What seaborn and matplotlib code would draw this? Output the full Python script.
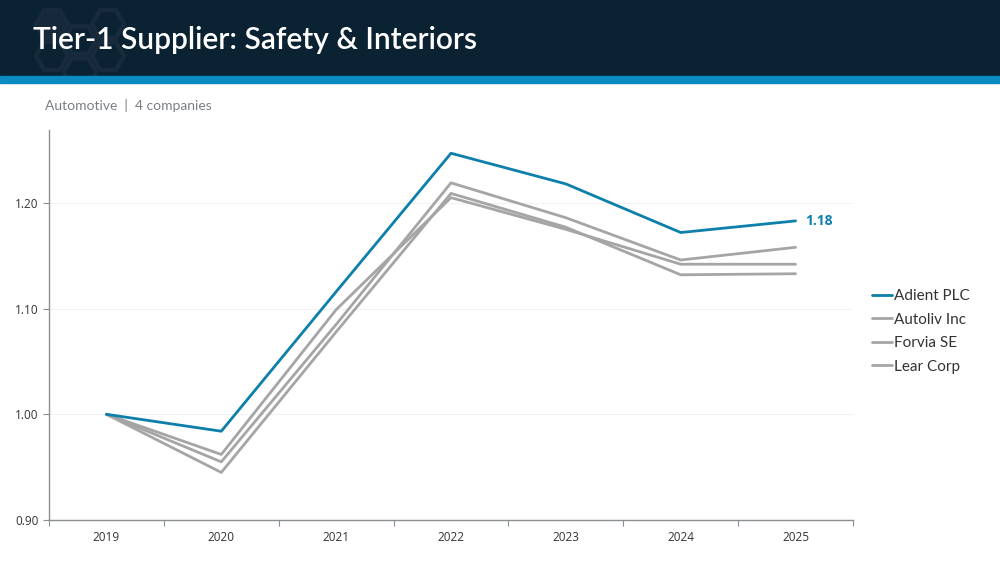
import numpy as np
import pandas as pd
import matplotlib
matplotlib.use("Agg")
import matplotlib.pyplot as plt
from matplotlib.patches import RegularPolygon, Rectangle
from matplotlib.lines import Line2D
import seaborn as sns

years = ["2019", "2020", "2021", "2022", "2023", "2024", "2025"]
companies = ["Adient PLC", "Autoliv Inc", "Forvia SE", "Lear Corp"]
adient = [1.00, 0.984, 1.116, 1.247, 1.218, 1.172, 1.183]
autoliv = [1.00, 0.962, 1.099, 1.205, 1.175, 1.142, 1.142]
forvia = [1.00, 0.955, 1.085, 1.219, 1.186, 1.146, 1.158]
lear = [1.00, 0.945, 1.078, 1.209, 1.177, 1.132, 1.133]
yticks = [0.90, 1.00, 1.10, 1.20]

BLUE = "#0c7fab"
GRAY = "#a5a5a5"
NAVY = "#0b2233"

series = [adient, autoliv, forvia, lear]
rows = []
for name, vals in zip(companies, series):
    for i, (yr, v) in enumerate(zip(years, vals)):
        rows.append({"company": name, "idx": i, "year": yr, "value": v})
df = pd.DataFrame(rows)

sns.set_theme(style="white")
plt.rcParams["font.family"] = ["Open Sans", "DejaVu Sans"]

fig = plt.figure(figsize=(10, 5.62), dpi=100)

# header band
header = Rectangle((0, 1 - 76 / 562), 1, 76 / 562, transform=fig.transFigure,
                   color=NAVY, zorder=0)
fig.patches.append(header)
fig.patches.append(Rectangle((0, 1 - 83 / 562), 1, 7 / 562, transform=fig.transFigure,
                             color="#0a8cc0", zorder=2))
# faint hexagon decoration (pixel positions, converted to inches)
for (hx, hy, filled) in [(52, 24, True), (80, 40, False), (108, 24, False),
                         (52, 56, False), (108, 56, False), (80, 72, False)]:
    hexa = RegularPolygon((hx / 100, (562 - hy) / 100), numVertices=6,
                          radius=0.16, orientation=np.pi / 6,
                          transform=fig.dpi_scale_trans, fill=filled,
                          facecolor="#16293a", edgecolor="#182b3c", lw=3, zorder=1)
    hexa.set_clip_path(header)
    fig.patches.append(hexa)
fig.text(0.033, 1 - 40 / 562, "Tier-1 Supplier: Safety & Interiors", color="white",
         fontsize=21.5, fontweight="semibold", va="center", ha="left",
         family=["Lato", "DejaVu Sans"], zorder=3)
fig.text(0.045, 1 - 106 / 562, "Automotive  |  4 companies", color="#7a7f85",
         fontsize=10, va="center", ha="left", family=["Lato", "DejaVu Sans"])

ax = fig.add_axes([0.049, 1 - 520 / 562, 0.804, (520 - 130) / 562])
palette = {"Adient PLC": BLUE, "Autoliv Inc": GRAY, "Forvia SE": GRAY, "Lear Corp": GRAY}
sns.lineplot(data=df[df.company != "Adient PLC"], x="idx", y="value", hue="company",
             palette=palette, lw=2, ax=ax, legend=False, zorder=2)
sns.lineplot(data=df[df.company == "Adient PLC"], x="idx", y="value", hue="company",
             palette=palette, lw=2, ax=ax, legend=False, zorder=3)

ax.set_xlim(-0.5, len(years) - 0.5)
ax.set_ylim(0.90, 1.269)
ax.set_xticks(range(len(years)))
ax.set_xticklabels(years)
ax.set_xticks(np.arange(-0.5, len(years), 1.0), minor=True)
ax.tick_params(axis="x", which="major", length=0, labelsize=8.5, colors="#333333", pad=8)
ax.tick_params(axis="x", which="minor", length=4, color="#8a8f94", width=0.8, direction="out", bottom=True)
ax.set_yticks(yticks)
ax.set_yticklabels([f"{t:.2f}" for t in yticks])
ax.tick_params(axis="y", which="major", length=4, color="#8a8f94", width=0.8, labelsize=8.5,
               colors="#333333", left=True)
ax.yaxis.grid(True, color="#f2f2f2", lw=0.8)
ax.set_axisbelow(True)
ax.set_xlabel("")
ax.set_ylabel("")
for s in ["top", "right"]:
    ax.spines[s].set_visible(False)
for s in ["left", "bottom"]:
    ax.spines[s].set_color("#8a8f94")
    ax.spines[s].set_linewidth(1)

ax.annotate(f"{adient[-1]:.2f}", xy=(len(years) - 1, adient[-1]), xytext=(7, 0),
            textcoords="offset points", color=BLUE, fontsize=10, fontweight="bold",
            va="center", ha="left")

handles = [Line2D([0], [0], color=palette[c], lw=2) for c in companies]
fig.legend(handles, companies, loc="upper left", bbox_to_anchor=(0.866, 1 - 283 / 562),
           frameon=False, handlelength=1.3, handletextpad=0.1,
           labelspacing=0.62, labelcolor="#333333", borderaxespad=0,
           prop={"family": ["Lato", "DejaVu Sans"], "size": 11})

fig.savefig("out.png", dpi=100)
